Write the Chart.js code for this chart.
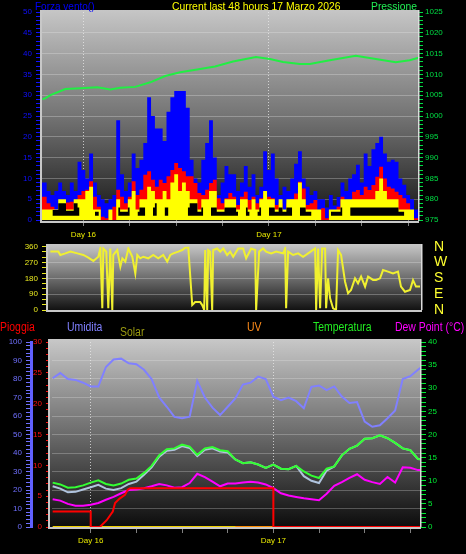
<!DOCTYPE html>
<html><head><meta charset="utf-8">
<script src="https://cdn.jsdelivr.net/npm/chart.js"></script>
<style>
html,body{margin:0;padding:0;background:#000;width:466px;height:554px;overflow:hidden;position:relative;}
canvas{position:absolute;left:0;}
.t{position:absolute;font-family:"Liberation Sans",Arial,sans-serif;white-space:nowrap;line-height:12px;font-size:12px;transform:scaleX(0.87);transform-origin:0 0;}
</style></head><body>
<canvas id="c1" width="466" height="250" style="top:0;width:466px;height:250px"></canvas>
<canvas id="c2" width="466" height="85" style="top:236px;width:466px;height:85px"></canvas>
<canvas id="c3" width="466" height="234" style="top:320px;width:466px;height:234px"></canvas>
<div class="t" style="left:35px;top:0;color:#0000ff;font-size:11.5px">Forza vento()</div>
<div class="t" style="left:172px;top:0;color:#ffff00;font-size:11.5px;transform:scaleX(0.9)">Current last 48 hours 17 Marzo 2026</div>
<div class="t" style="left:371px;top:0;color:#22ee55;font-size:11.5px;transform:scaleX(0.9)">Pressione</div>
<div class="t" style="left:0;top:320.5px;color:#ff0000">Pioggia</div>
<div class="t" style="left:67px;top:320.5px;color:#8080ff">Umidita</div>
<div class="t" style="left:120px;top:325.5px;color:#9a9a10">Solar</div>
<div class="t" style="left:247px;top:320.5px;color:#ff8c1a">UV</div>
<div class="t" style="left:313px;top:320.5px;color:#22ee22">Temperatura</div>
<div class="t" style="left:395px;top:320.5px;color:#ff00ff">Dew Point (°C)</div>
<script>
// ---------- data ----------
const X_MIN = -5.35, X_MAX = 43.4;           // hours relative to Day 16 00:00
const xTickHours = [0, 6, 12, 18, 24, 30, 36, 42];
const xTickLabels = ['Day 16', '', '', '', 'Day 17', '', '', ''];

// wind, half-hourly from -5.5 h
const windGust = [9,9,7,6,7,9,7,6,9,7, 14,12,10,16,9,6,5,4,5,6, 24,11,7,9,16,12.5,14.5,18.5,29.5,25,
  22,22,19,26,29.5,31,31,31,27,14.5, 10,9,14.5,18.5,24,15,6,9,13,11, 11,7,9,13,8,11,6,8,16.5,12,
  16,10,6,8,7,10,13.5,16.5,10,8, 6,7,5,5,3,6,3.5,5.5,9,7, 10,11,13.3,9,16,13,17,18.5,20,16,
  14,14.5,14,10,8.5,6,5,2.5,2];
const windAvg = [5.6,5.6,4,3.2,2.4,3.6,4,4.2,4.4,3.5, 6,7,7.3,9.3,5.6,3.2,0.8,0.4,2.4,3.2,
  7.3,5.6,4,5.6,9.3,6,7.3,10.9,11.7,9.7, 8,9.7,8.9,10.5,12,13.7,12.5,11.7,10.5,10.5,
  8.9,6.5,6,7.3,8.9,9.7,5.2,4,5.2,6.5, 5.6,3.6,5.6,6.8,4.8,5.6,4,5.2,6.8,5.6,
  5.2,3.6,4,2.4,4,5,6.4,9.2,7.6,3.6, 4,4.8,2.4,2.8,0.4,2.4,1.6,3.2,5.6,4.8,
  4.8,6.8,7.2,6,8,7.2,8.4,10.4,12.8,10, 8,7.6,6.8,6,5.2,4,2.4,0.4,0.4];
const windSpeed = [2.5,2.5,2.5,2.5,2.5,5,5,2.5,2.5,5, 5,5,7,8,2.5,2.5,0,0,2.5,0,
  5,2.5,2.5,5,7,2.5,5,5,8,7, 5,5,7,5,9,11,7,9,7,5, 5,2.5,5,5,7,7,2.5,2.5,5,5,
  5,2.5,5,5,2.5,5,2.5,5,7,5, 5,2.5,5,2.5,5,5,5,9,5,2.5, 2.5,2.5,2.5,0,0,2.5,2.5,2.5,5,5,
  5,5,5,5,5,5,5,7,10,7, 5,5,5,2.5,2.5,2.5,2.5,0,0];
const windLull = [null,2,null,2.4,2.4,4,4,2.2,2.2,4, 3,null,3,null,2,2,null,null,null,null,
  3,2,2,3,null,2,3,3,null,3, 4,null,3,3,null,3,null,null,3,4, 4,2,3,null,3,3,2,2,3,3,
  3,2,null,3,2,null,2,3,null,3, 3,2,3,2,3,3,null,3,3,2, 2,null,2,null,null,2,2,2,3,null,
  3,3,3,3,3,3,3,3,3,3, 3,3,3,2,2,null,null,null,null];
const windHours = windGust.map((_, i) => -5.5 + 0.5 * i);

const pressHours = [-5.29,-4.9,-4.26,-2.32,-0.39,1.81,3.48,4.77,6.71,8.65,10.58,12.52,15.1,17.03,19.35,22.32,24.13,25.81,28.0,29.29,31.87,35.23,37.81,40.39,42.19,43.35];
const pressValues = [1004.0,1004.3,1005.0,1006.5,1006.7,1006.9,1006.4,1006.8,1007.0,1008.1,1009.6,1010.5,1011.3,1011.9,1013.1,1014.2,1013.7,1013.0,1012.5,1012.5,1013.4,1014.5,1013.7,1012.9,1013.4,1014.0];

// wind direction
const dirHours = [-5.04,-4.0,-3.74,-3.09,-2.44,-1.52,-0.74,-0.09,0.56,1.21,
  1.47,1.73,1.86,2.25,2.51,2.77,3.03,3.16,3.68,4.08,
  4.34,4.73,5.12,5.64,6.03,6.29,6.68,7.07,7.72,8.37,
  9.02,9.67,10.19,10.59,10.98,11.63,12.15,12.54,12.93,13.45,
  13.84,14.49,14.75,15.01,15.14,15.4,15.53,15.79,16.05,16.18,
  16.7,17.1,17.5,18.0,18.4,18.79,19.44,20.09,20.48,21.13,
  21.65,21.78,22.17,22.69,23.08,23.74,24.39,25.3,25.56,25.69,
  25.95,26.6,27.25,27.9,28.55,29.47,29.6,29.86,30.12,30.38,
  30.77,30.9,31.16,31.42,31.81,32.2,32.46,32.85,33.37,33.76,
  34.15,34.67,35.06,35.46,35.98,36.37,37.02,37.41,37.93,38.32,
  38.97,39.62,40.27,40.66,41.18,41.84,42.23,42.62,43.14];
const dirValues = [332,332,313,322,332,322,313,298,279,303,
  350,10,350,332,10,350,0,313,341,246,
  294,275,350,303,208,313,294,303,294,313,
  294,313,275,313,322,332,341,354,360,28,
  45,45,28,0,341,0,341,332,0,341,
  350,332,350,313,332,303,350,350,294,350,
  341,0,332,350,332,322,332,322,350,10,
  332,313,322,303,322,350,0,350,10,350,
  350,10,180,66,10,0,341,313,161,95,
  114,180,152,190,133,190,171,171,180,227,
  218,208,218,133,104,114,170,133,133];
const dirTickValues = [0, 90, 180, 270, 360];
const dirTickLabels = ['N', 'E', 'S', 'W', 'N'];

// hourly from -5 h
const temperature = [9.6,9.2,8.5,8.6,9.0, 9.6,10.1,9.3,9.0,9.4, 10.2,10.5,11.7,13.2,15.5,
  16.8,17.0,17.8,17.4,15.6, 17.0,17.3,16.6,16.4,14.6, 13.8,14.0,13.5,12.8,13.5,
  12.6,12.5,13.2,12.0,11.1, 10.6,12.6,13.1,15.5,16.9, 17.6,19.1,19.2,19.8,19.2,
  18.2,17.0,16.6,14.7,14.6];
const apparentTemp = [8.8,8.3,7.5,7.6,8.1, 8.6,9.1,8.3,8.0,8.4, 9.3,9.8,11.3,12.9,15.2,
  16.5,16.7,17.5,17.1,15.3, 16.7,17.0,16.3,16.1,14.6, 13.8,14.0,13.5,12.8,13.5,
  12.6,12.5,13.2,11.0,10.0, 9.5,12.2,13.1,15.5,16.9, 17.6,19.1,19.2,19.8,19.2,
  18.2,17.0,16.6,14.7,14.6];
const dewPoint = [6.0,5.7,5.0,4.6,4.6, 4.8,5.2,5.9,6.5,7.3, 8.0,8.1,8.4,8.8,9.3,
  9.0,8.5,8.6,9.5,11.5, 10.8,9.8,8.8,9.4,9.4, 9.6,9.8,9.6,9.2,8.4,
  7.3,6.8,6.5,6.2,6.0, 5.8,7.2,8.9,9.7,10.6, 11.4,10.2,9.7,9.3,10.8,
  9.6,12.9,12.8,12.3,12.4];
const humidity = [80.4,83.2,80.0,79.5,78.0, 76.0,76.0,86.5,90.5,91.0, 88.5,88.0,85.0,80.0,70.0,
  65.0,59.5,58.8,59.6,79.0, 70.0,64.5,60.5,65.0,69.5, 77.0,78.0,81.3,80.0,70.4,
  68.6,70.0,68.0,64.2,75.8, 76.5,74.0,76.0,70.5,67.0, 67.5,57.0,54.2,55.0,58.8,
  63.0,80.0,81.5,85.0,88.0];
const hourly = temperature.map((_, i) => -5 + i);
const solar = [0,0,0,0,0,0,0,0,0,0,0,0,0,0,0,0,0,0,0,0,0,0,0,0,0,0,0,0,0,0,0,0,0,0,0,0,0,0,0,0,0,0,0,0,0,0,0,0,0,0];
const uvHours = [19,20,21,22,23,24,25,26,27,28,29,30,31,32,33,34,35,36,37,38,39,40,41,42,43,44];
const uv = [0,0,0,0,0,0,0,0,0,0,0,0,0,0,0,0,0,0,0,0,0,0,0,0,0,0];
const rainHours = [-5, 0, 0, 1.2, 2.1, 2.9, 3.2, 3.8, 4.5, 4.9, 5.2, 24, 24, 44];
const rainValues = [2.5, 2.5, 0, 0, 1.1, 2.5, 3.9, 4.6, 5.2, 6.1, 6.3, 6.3, 0, 0];

// ---------- helpers ----------
const pts = (xs, ys) => ys.map((y, i) => ({x: xs[i], y}));
Chart.defaults.font.family = '"Liberation Sans", Arial, sans-serif';
Chart.defaults.font.size = 8;
Chart.defaults.animation = false;

const panelBg = {
  id: 'panelBg',
  beforeDraw(chart, args, o) {
    const {ctx, chartArea: a} = chart;
    const t = a.top - o.extTop, b = a.bottom + o.extBottom;
    const g = ctx.createLinearGradient(0, t, 0, b);
    o.stops.forEach(s => g.addColorStop(s[0], s[1]));
    ctx.save(); ctx.fillStyle = g; ctx.fillRect(a.left, t, a.right - a.left, b - t); ctx.restore();
  },
  afterDraw(chart, args, o) {
    const {ctx, chartArea: a} = chart;
    const t = a.top - o.extTop, b = a.bottom + o.extBottom;
    ctx.save();
    ctx.fillStyle = '#c8c8c8';
    ctx.fillRect(a.left - 2, t, 2, b + 2 - t);
    ctx.fillRect(a.left - 2, b, a.right - a.left + 2, 2);
    ctx.fillStyle = '#dcdcdc';
    ctx.fillRect(a.right - 1, t, 1.5, b - t);
    ctx.restore();
  }
};

function xAxis(height, pad, show) {
  return {
    type: 'linear', min: X_MIN, max: X_MAX, display: show,
    afterBuildTicks: s => { s.ticks = xTickHours.map(v => ({value: v})); },
    afterFit: s => { s.height = height; },
    ticks: { autoSkip: false, maxRotation: 0, color: '#e8e800', padding: pad,
      callback: v => { const k = xTickHours.indexOf(v); return k >= 0 ? xTickLabels[k] : ''; } },
    grid: { color: c => (c.tick && xTickLabels[xTickHours.indexOf(c.tick.value)]) ? 'rgba(235,235,235,0.75)' : 'rgba(0,0,0,0)',
      tickColor: '#808080', tickLength: 6, lineWidth: 1 },
    border: { display: false, dash: [1, 2] }
  };
}
function yAxis(o) {
  return {
    type: 'linear', position: o.pos, min: o.min, max: o.max, weight: o.weight || 0,
    afterFit: s => { s.width = o.width; },
    ticks: { stepSize: o.step, autoSkip: false, color: o.color, padding: o.pad, font: o.font,
      callback: v => (o.labels ? (o.labels[o.labelValues.indexOf(v)] ?? '') : (v % o.every === 0 ? String(v) : '')) },
    grid: { drawOnChartArea: !!o.grid, drawTicks: o.tickLen > 0, tickLength: o.tickLen, tickColor: o.tickColor || o.color,
      color: c => (o.grid && c.tick && c.tick.value % o.every === 0 && c.tick.value !== o.min && c.tick.value !== o.max) ? o.grid : 'rgba(0,0,0,0)' },
    border: { display: !!o.border, color: o.border, width: o.borderWidth || 1 }
  };
}
const common = { responsive: false, devicePixelRatio: 1, animation: false, events: [],
  elements: { point: { radius: 0 } } };

// ---------- panel 1: wind speed & pressure ----------
new Chart(document.getElementById('c1'), {
  type: 'line',
  data: { datasets: [
    { data: pts(pressHours, pressValues), yAxisID: 'yP', borderColor: '#22ee44', borderWidth: 2, fill: false, tension: 0 },
    { data: pts(windHours, windLull), yAxisID: 'yW', borderWidth: 0, borderColor: 'rgba(0,0,0,0)', backgroundColor: '#000000', stepped: 'middle', fill: {target: {value: 1}}, spanGaps: false },
    { data: pts(windHours, windSpeed), yAxisID: 'yW', borderWidth: 0, borderColor: 'rgba(0,0,0,0)', backgroundColor: '#ffff00', stepped: 'middle', fill: 'origin' },
    { data: pts(windHours, windAvg), yAxisID: 'yW', borderWidth: 0, borderColor: 'rgba(0,0,0,0)', backgroundColor: '#ff0000', stepped: 'middle', fill: 'origin' },
    { data: pts(windHours, windGust), yAxisID: 'yW', borderWidth: 0, borderColor: 'rgba(0,0,0,0)', backgroundColor: '#0000ff', stepped: 'middle', fill: 'origin' }
  ]},
  options: Object.assign({}, common, {
    layout: { padding: { top: 12, left: 0, right: 0, bottom: 0 } },
    plugins: { legend: { display: false }, tooltip: { enabled: false },
      panelBg: { extTop: 2, extBottom: 1, stops: [[0, '#c6c6c6'], [0.5, '#747474'], [1, '#161616']] } },
    scales: {
      x: xAxis(30, 4, true),
      yW: yAxis({ pos: 'left', min: 0, max: 50, step: 1, every: 5, color: '#1010ff', width: 42, tickLen: 6, pad: 4, grid: 'rgba(235,235,235,0.3)' }),
      yP: yAxis({ pos: 'right', min: 975, max: 1025, step: 1, every: 5, color: '#00dd44', width: 47, tickLen: 4, pad: 2 })
    }
  }),
  plugins: [panelBg]
});

// ---------- panel 2: wind direction ----------
new Chart(document.getElementById('c2'), {
  type: 'line',
  data: { datasets: [
    { data: pts(dirHours, dirValues), yAxisID: 'yD', borderColor: '#f0f030', borderWidth: 2, fill: false, tension: 0 }
  ]},
  options: Object.assign({}, common, {
    layout: { padding: { top: 10.7, left: 0, right: 0, bottom: 11 } },
    plugins: { legend: { display: false }, tooltip: { enabled: false },
      panelBg: { extTop: 2.7, extBottom: 0, stops: [[0, '#c8c8c8'], [0.5, '#707070'], [1, '#121212']] } },
    scales: {
      x: xAxis(0, 0, false),
      yD: yAxis({ pos: 'left', min: 0, max: 360, step: 30, every: 90, color: '#e8e820', width: 48, tickLen: 6, pad: 4, grid: 'rgba(235,235,235,0.3)' }),
      yN: yAxis({ pos: 'right', min: 0, max: 360, step: 90, every: 90, color: '#ffff30', width: 44, tickLen: 12, tickColor: 'rgba(0,0,0,0)', pad: 0,
        font: { size: 14 }, labels: dirTickLabels, labelValues: dirTickValues })
    }
  }),
  plugins: [panelBg]
});

// ---------- panel 3: rain, humidity, temperature ----------
new Chart(document.getElementById('c3'), {
  type: 'line',
  data: { datasets: [
    { data: pts(hourly, humidity), yAxisID: 'yH', borderColor: '#8080ff', borderWidth: 2, fill: false, tension: 0 },
    { data: pts(hourly, temperature), yAxisID: 'yT', borderColor: '#33ff33', borderWidth: 2, fill: false, tension: 0 },
    { data: pts(hourly, apparentTemp), yAxisID: 'yT', borderColor: '#b0c4de', borderWidth: 2, fill: false, tension: 0 },
    { data: pts(rainHours, rainValues), yAxisID: 'yR', borderColor: '#ff0000', borderWidth: 2, fill: false, tension: 0 },
    { data: pts(hourly, dewPoint), yAxisID: 'yT', borderColor: '#ff00ff', borderWidth: 2, fill: false, tension: 0 },
    { data: pts(uvHours, uv), yAxisID: 'yT', borderColor: '#ff8c00', borderWidth: 2, fill: false },
    { data: pts(hourly, solar), yAxisID: 'yT', borderColor: '#f0d000', borderWidth: 2, fill: false }
  ]},
  options: Object.assign({}, common, {
    layout: { padding: { top: 22, left: 0, right: 0, bottom: 0 } },
    plugins: { legend: { display: false }, tooltip: { enabled: false },
      panelBg: { extTop: 3, extBottom: 0, stops: [[0, '#c8c8c8'], [0.5, '#6c6c6c'], [1, '#0c0c0c']] } },
    scales: {
      x: xAxis(27, 3, true),
      yH: yAxis({ pos: 'left', weight: 1, min: 0, max: 100, step: 2, every: 10, color: '#7070ff', width: 31, tickLen: 5, pad: 4,
        grid: 'rgba(235,235,235,0.28)', border: '#6060ff', borderWidth: 3 }),
      yR: yAxis({ pos: 'left', weight: 0, min: 0, max: 30, step: 1, every: 5, color: '#ff1010', width: 19, tickLen: 4, pad: 4 }),
      yT: yAxis({ pos: 'right', min: 0, max: 40, step: 1, every: 5, color: '#00ee33', width: 45, tickLen: 5, pad: 2 })
    }
  }),
  plugins: [panelBg]
});
</script>
</body></html>
